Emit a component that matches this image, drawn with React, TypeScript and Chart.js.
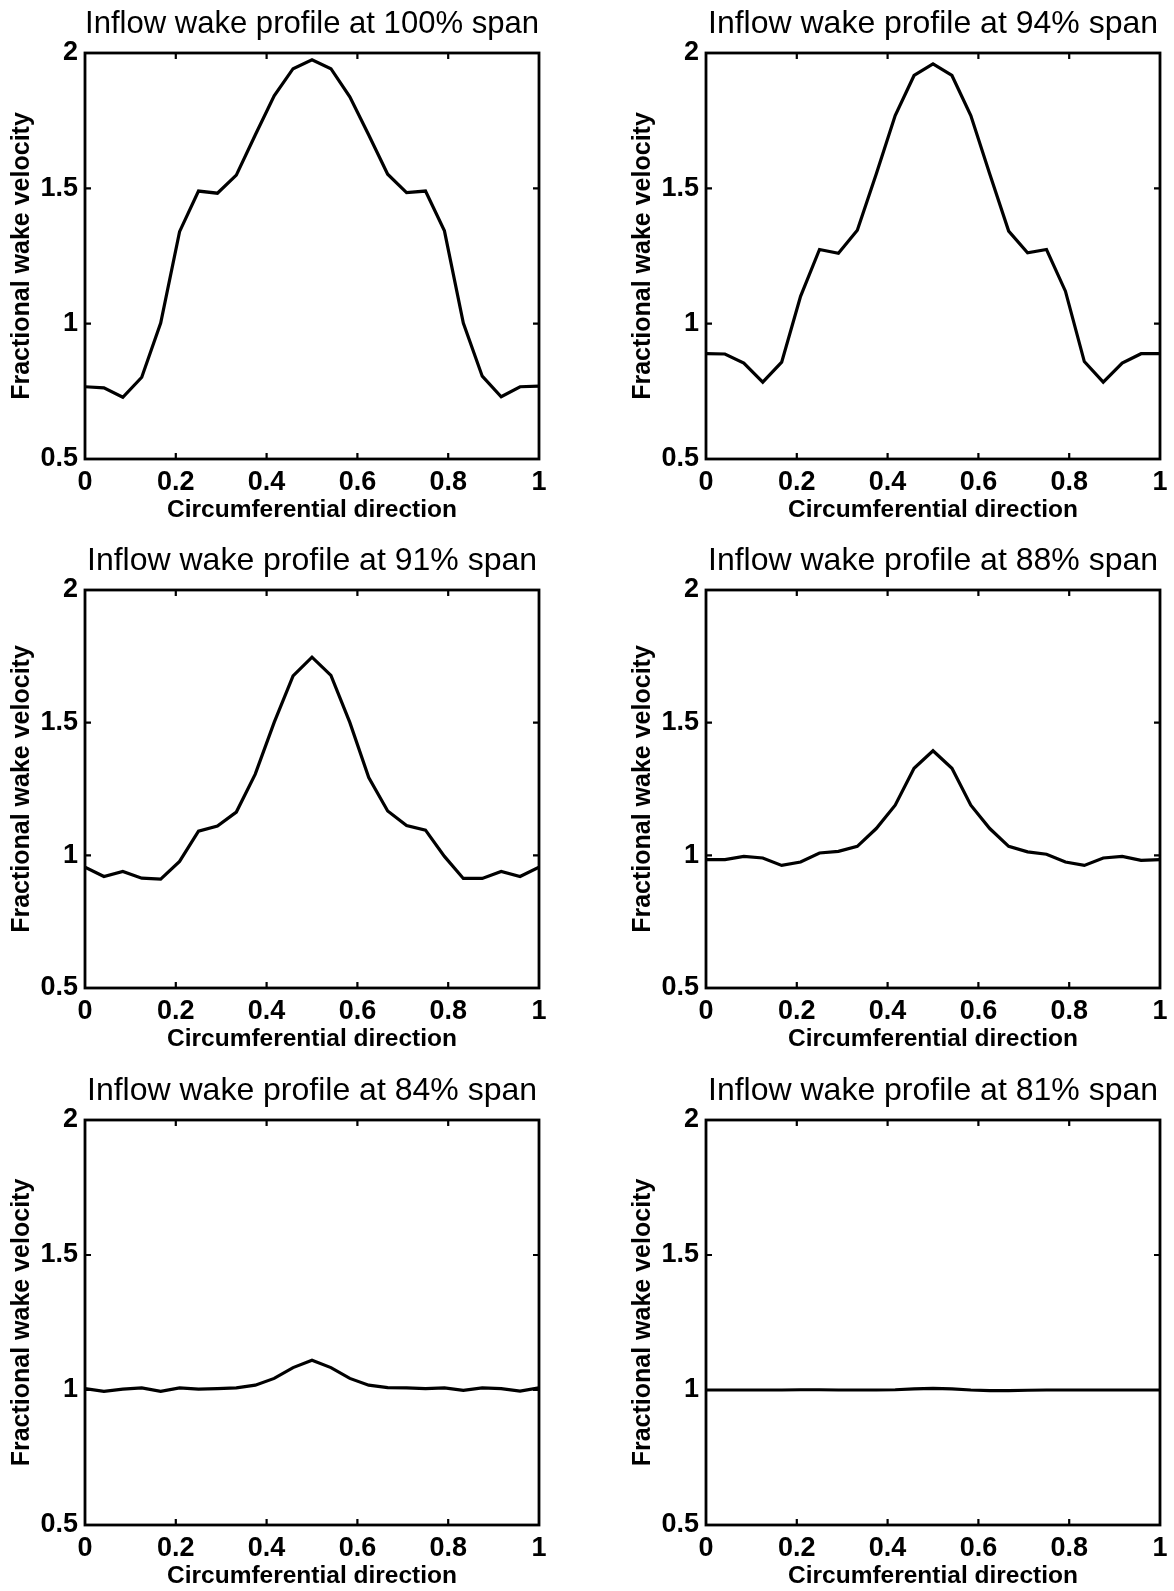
import React, { useEffect, useRef } from "react";
import { Chart, registerables } from "chart.js";

Chart.register(...registerables);

// ---------------- data ----------------
const circumferentialPositions = [
  0, 0.0417, 0.0833, 0.125, 0.1667, 0.2083, 0.25, 0.2917, 0.3333, 0.375, 0.4167, 0.4583, 0.5,
  0.5417, 0.5833, 0.625, 0.6667, 0.7083, 0.75, 0.7917, 0.8333, 0.875, 0.9167, 0.9583, 1,
];

const span100 = [
  0.767, 0.763, 0.728, 0.802, 1.002, 1.34, 1.49, 1.482, 1.549, 1.697, 1.842, 1.942, 1.975,
  1.942, 1.838, 1.697, 1.552, 1.484, 1.49, 1.343, 1.002, 0.806, 0.73, 0.767, 0.769,
];
const span94 = [
  0.889, 0.888, 0.854, 0.784, 0.858, 1.101, 1.274, 1.26, 1.345, 1.553, 1.769, 1.917, 1.96,
  1.917, 1.769, 1.553, 1.342, 1.262, 1.274, 1.12, 0.86, 0.784, 0.854, 0.889, 0.889,
];
const span91 = [
  0.955, 0.92, 0.939, 0.914, 0.91, 0.977, 1.091, 1.11, 1.163, 1.306, 1.501, 1.676, 1.747,
  1.678, 1.501, 1.293, 1.167, 1.112, 1.095, 0.996, 0.913, 0.913, 0.939, 0.92, 0.955,
];
const span88 = [
  0.984, 0.984, 0.996, 0.99, 0.962, 0.975, 1.009, 1.015, 1.034, 1.101, 1.189, 1.328, 1.394,
  1.328, 1.189, 1.101, 1.034, 1.013, 1.004, 0.975, 0.962, 0.99, 0.996, 0.981, 0.984,
];
const span84 = [
  1.005, 0.995, 1.003, 1.008, 0.995, 1.008, 1.003, 1.005, 1.008, 1.018, 1.043, 1.083, 1.11,
  1.083, 1.043, 1.018, 1.009, 1.008, 1.005, 1.008, 0.999, 1.008, 1.005, 0.996, 1.008,
];
const span81 = [
  1.0, 1.0, 1.0, 1.0, 1.0, 1.001, 1.001, 1.0, 1.0, 1.0, 1.001, 1.004, 1.006,
  1.004, 1.0, 0.998, 0.998, 0.999, 1.0, 1.0, 1.0, 1.0, 1.0, 1.0, 1.0,
];

const spanLabels = ["100%", "94%", "91%", "88%", "84%", "81%"];
const spanSeries = [span100, span94, span91, span88, span84, span81];

const xTickValues = [0, 0.2, 0.4, 0.6, 0.8, 1];
const xTickLabels = ["0", "0.2", "0.4", "0.6", "0.8", "1"];
const yTickValues = [0.5, 1, 1.5, 2];
const yTickLabels = ["0.5", "1", "1.5", "2"];

const xAxisTitle = "Circumferential direction";
const yAxisTitle = "Fractional wake velocity";
const titlePrefix = "Inflow wake profile at ";
const titleSuffix = " span";

// ---------------- layout ----------------
const FONT = "'Liberation Sans', Arial, Helvetica, sans-serif";
const PLOT_W = 454;
const LEFT_AREA = 85;
const TOP_AREA = 53;
const BOTTOM_AREA = 66;
const RIGHT_AREA = 15;
const colPlotLeft = [85, 706];
const rowPlotTop = [53, 590, 1120];
const rowPlotHeight = [406, 398, 405];

const framePlugin = {
  id: "matlabFrame",
  afterDatasetsDraw(chart: any) {
    const { ctx, chartArea } = chart;
    const { left, right, top, bottom } = chartArea;
    const xs = chart.scales.x;
    const ys = chart.scales.y;
    ctx.save();
    ctx.strokeStyle = "#000";
    ctx.lineWidth = 2.8;
    ctx.strokeRect(left, top, right - left, bottom - top);
    const tl = 6;
    ctx.lineWidth = 2.2;
    ctx.beginPath();
    xs.ticks.forEach((t: any) => {
      const px = xs.getPixelForValue(t.value);
      if (px <= left + 2 || px >= right - 2) return;
      ctx.moveTo(px, bottom);
      ctx.lineTo(px, bottom - tl);
      ctx.moveTo(px, top);
      ctx.lineTo(px, top + tl);
    });
    ys.ticks.forEach((t: any) => {
      const py = ys.getPixelForValue(t.value);
      if (py <= top + 2 || py >= bottom - 2) return;
      ctx.moveTo(left, py);
      ctx.lineTo(left + tl, py);
      ctx.moveTo(right, py);
      ctx.lineTo(right - tl, py);
    });
    ctx.stroke();
    ctx.restore();
  },
};

function WakePanel(props: { idx: number }) {
  const { idx } = props;
  const ref = useRef<HTMLCanvasElement>(null);
  const col = idx % 2;
  const row = Math.floor(idx / 2);
  const plotH = rowPlotHeight[row];
  const W = LEFT_AREA + PLOT_W + RIGHT_AREA;
  const H = TOP_AREA + plotH + BOTTOM_AREA;
  const left = colPlotLeft[col] - LEFT_AREA;
  const top = rowPlotTop[row] - TOP_AREA;

  useEffect(() => {
    const canvas = ref.current;
    if (!canvas) return;
    const values = spanSeries[idx];
    const chart = new Chart(canvas, {
      type: "line",
      data: {
        datasets: [
          {
            data: circumferentialPositions.map((x, i) => ({ x, y: values[i] })),
            borderColor: "#000",
            borderWidth: 3.2,
            pointRadius: 0,
            tension: 0,
            fill: false,
          },
        ],
      },
      options: {
        responsive: false,
        animation: false,
        devicePixelRatio: 1,
        events: [],
        layout: { padding: { left: 0, right: RIGHT_AREA, top: 0, bottom: 0 } },
        plugins: {
          legend: { display: false },
          tooltip: { enabled: false },
          title: {
            display: true,
            fullSize: false,
            text: titlePrefix + spanLabels[idx] + titleSuffix,
            color: "#000",
            font: { family: FONT, size: 32, weight: "normal", lineHeight: 1.2 },
            padding: { top: 4.8, bottom: 9.8 },
          },
        },
        scales: {
          x: {
            type: "linear",
            min: 0,
            max: 1,
            grid: { display: false, drawTicks: false },
            border: { display: false },
            afterBuildTicks: (s: any) => {
              s.ticks = xTickValues.map((v) => ({ value: v }));
            },
            afterFit: (s: any) => {
              s.height = BOTTOM_AREA;
              s.paddingLeft = 0;
              s.paddingRight = 0;
            },
            ticks: {
              padding: 7.8,
              color: "#000",
              maxRotation: 0,
              autoSkip: false,
              font: { family: FONT, size: 27, weight: "bold", lineHeight: 1.2 },
              callback: (v: any) => {
                const k = xTickValues.indexOf(Number(v));
                return k >= 0 ? xTickLabels[k] : "";
              },
            },
            title: {
              display: true,
              text: xAxisTitle,
              color: "#000",
              font: { family: FONT, size: 24.5, weight: "bold", lineHeight: 1.2 },
              padding: { top: 0, bottom: 0 },
            },
          },
          y: {
            type: "linear",
            min: 0.5,
            max: 2,
            grid: { display: false, drawTicks: false },
            border: { display: false },
            afterBuildTicks: (s: any) => {
              s.ticks = yTickValues.map((v) => ({ value: v }));
            },
            afterFit: (s: any) => {
              s.width = LEFT_AREA;
              s.paddingTop = 0;
              s.paddingBottom = 0;
            },
            ticks: {
              padding: 7,
              color: "#000",
              autoSkip: false,
              font: { family: FONT, size: 27, weight: "bold", lineHeight: 1.2 },
              callback: (v: any) => {
                const k = yTickValues.indexOf(Number(v));
                return k >= 0 ? yTickLabels[k] : "";
              },
            },
            title: {
              display: true,
              text: yAxisTitle,
              color: "#000",
              font: { family: FONT, size: 25, weight: "bold", lineHeight: 1.2 },
              padding: { top: 7, bottom: 0 },
            },
          },
        },
      } as any,
      plugins: [framePlugin],
    });
    return () => chart.destroy();
  }, [idx]);

  return (
    <canvas
      ref={ref}
      width={W}
      height={H}
      style={{ position: "absolute", left, top, width: W, height: H }}
    />
  );
}

export default function App() {
  return (
    <div
      style={{
        position: "absolute",
        left: 0,
        top: 0,
        width: 1174,
        height: 1591,
        overflow: "hidden",
        background: "#fff",
      }}
    >
      {spanLabels.map((_, i) => (
        <WakePanel key={i} idx={i} />
      ))}
    </div>
  );
}
